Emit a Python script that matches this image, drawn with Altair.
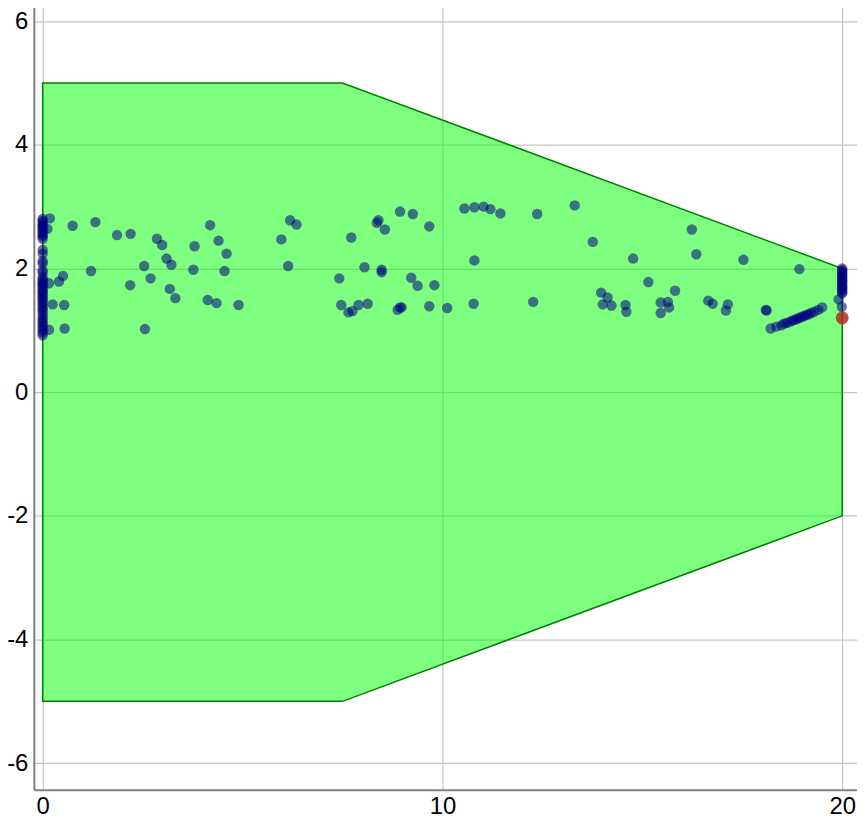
import altair as alt
import pandas as pd

# Polygon (region) boundary: upper and lower edges
poly_x = [0, 7.5, 20]
poly_top = [5, 5, 2]
poly_bottom = [-5, -5, -2]

# Scatter points (navy)
pts_x = [
    # column at x=0
    0, 0, 0, 0, 0, 0, 0, 0, 0, 0, 0, 0, 0, 0, 0, 0, 0, 0, 0, 0, 0, 0,
    0, 0, 0, 0, 0, 0, 0, 0, 0, 0, 0, 0, 0, 0, 0, 0, 0, 0, 0, 0, 0,
    # near left
    0.18, 0.75, 1.32, 1.86, 2.20, 2.86, 2.99, 3.10, 3.22, 2.54, 1.21, 0.51,
    0.41, 0.16, 2.70, 2.19, 3.18, 3.32, 0.25, 0.54, 0.16, 0.55, 2.56, 0.12,
    3.80, 3.77, 4.19, 4.40, 4.60, 4.55, 4.13, 4.35, 4.90,
    # middle
    6.19, 6.35, 5.97, 6.14, 7.72, 7.42, 8.05, 8.36, 8.40, 8.56, 8.94, 9.26,
    9.67, 8.48, 8.48, 9.22, 9.38, 9.80, 7.47, 7.65, 7.75, 7.90, 8.13, 8.88,
    8.98, 8.94, 9.67, 10.12, 10.55, 10.80, 10.80, 10.78,
    11.03, 11.20, 11.45, 12.37, 13.31, 13.76, 14.77, 16.24, 16.35, 17.53,
    15.15, 13.97, 14.13, 14.01, 14.23, 14.58, 14.60, 12.27, 15.46, 15.64,
    15.67, 15.46, 15.82, 16.65, 16.76, 17.14, 17.09, 18.09, 18.11, 18.93,
    # diagonal streak
    18.21, 18.35, 18.48, 18.55, 18.62, 18.70, 18.76, 18.82, 18.88, 18.93,
    18.99, 19.05, 19.10, 19.16, 19.22, 19.30, 19.40, 19.50,
    # column at x=20
    20, 20, 20, 20, 20, 20, 20, 20, 20, 20, 20, 20, 20, 20, 20, 20, 20,
    19.91, 19.99,
]
pts_y = [
    2.80, 2.77, 2.74, 2.71, 2.68, 2.65, 2.62, 2.58, 2.55, 2.52, 2.48, 2.30,
    2.24, 2.12, 2.08, 1.97, 1.93, 1.86, 1.82, 1.79, 1.76, 1.73,
    1.70, 1.66, 1.63, 1.60, 1.56, 1.53, 1.50, 1.46, 1.42, 1.38, 1.34, 1.30,
    1.25, 1.20, 1.16, 1.12, 1.08, 1.04, 1.00, 0.96, 0.92,
    2.81, 2.69, 2.75, 2.54, 2.56, 2.48, 2.38, 2.16, 2.06, 2.04, 1.96, 1.88,
    1.79, 1.76, 1.84, 1.73, 1.67, 1.52, 1.42, 1.41, 1.01, 1.03, 1.02, 2.64,
    2.36, 1.98, 2.70, 2.45, 2.24, 1.96, 1.49, 1.44, 1.41,
    2.78, 2.71, 2.47, 2.04, 2.50, 1.84, 2.02, 2.74, 2.78, 2.63, 2.92, 2.88,
    2.68, 1.98, 1.94, 1.85, 1.72, 1.73, 1.41, 1.29, 1.31, 1.41, 1.43, 1.33,
    1.37, 1.37, 1.39, 1.36, 2.97, 2.99, 2.13, 1.43,
    3.00, 2.96, 2.89, 2.88, 3.02, 2.43, 2.16, 2.63, 2.23, 2.14,
    1.78, 1.61, 1.53, 1.42, 1.40, 1.41, 1.30, 1.46, 1.45, 1.46,
    1.37, 1.28, 1.64, 1.48, 1.43, 1.42, 1.32, 1.33, 1.32, 1.99,
    1.03, 1.06, 1.08, 1.11, 1.12, 1.14, 1.16, 1.17, 1.19, 1.20,
    1.22, 1.23, 1.25, 1.26, 1.28, 1.30, 1.33, 1.37,
    2.00, 1.97, 1.95, 1.92, 1.90, 1.87, 1.85, 1.82, 1.80, 1.78, 1.75, 1.72,
    1.70, 1.68, 1.65, 1.62, 1.60,
    1.50, 1.38,
]

# Highlighted point (red)
red_x = [20]
red_y = [1.20]

x_ticks = [0, 10, 20]
y_ticks = [-6, -4, -2, 0, 2, 4, 6]

poly_df = pd.DataFrame({"x": poly_x, "top": poly_top, "bottom": poly_bottom})
pts_df = pd.DataFrame({"x": pts_x, "y": pts_y})
red_df = pd.DataFrame({"x": red_x, "y": red_y})

xscale = alt.Scale(domain=[-0.22, 20.37], nice=False, zero=False)
yscale = alt.Scale(domain=[-6.43, 6.27], nice=False, zero=False)

xaxis = alt.Axis(values=x_ticks, title=None, labelExpr="datum.value", ticks=False,
                 labelPadding=5, domainColor="#7f7f7f", domainWidth=2,
                 gridColor="#c4c4c4", gridWidth=1.2)
yaxis = alt.Axis(values=y_ticks, title=None, labelExpr="datum.value", ticks=False,
                 labelPadding=6, domainColor="#7f7f7f", domainWidth=2,
                 gridColor="#c4c4c4", gridWidth=1.2)

poly = alt.Chart(poly_df).mark_area(
    fill="#00ff00", fillOpacity=0.5, stroke="#008000", strokeWidth=1.5, clip=True
).encode(
    x=alt.X("x:Q", scale=xscale, axis=xaxis),
    y=alt.Y("top:Q", scale=yscale, axis=yaxis),
    y2="bottom:Q",
)

points = alt.Chart(pts_df).mark_circle(
    color="#000080", opacity=0.55, size=110
).encode(
    x=alt.X("x:Q", scale=xscale),
    y=alt.Y("y:Q", scale=yscale),
)

red = alt.Chart(red_df).mark_circle(
    color="#b0221a", opacity=0.8, size=170
).encode(
    x=alt.X("x:Q", scale=xscale),
    y=alt.Y("y:Q", scale=yscale),
)

chart = alt.layer(poly, points, red).properties(
    width=854, height=813,
    autosize=alt.AutoSizeParams(type="fit", contains="padding"),
    padding={"left": -2, "top": -6, "right": 0, "bottom": 0},
).configure_view(
    stroke=None
).configure_axis(
    labelFont="Liberation Sans", labelFontSize=24, labelColor="#000000",
)

chart.save("out.html", embed_options={"renderer": "svg", "actions": False})
